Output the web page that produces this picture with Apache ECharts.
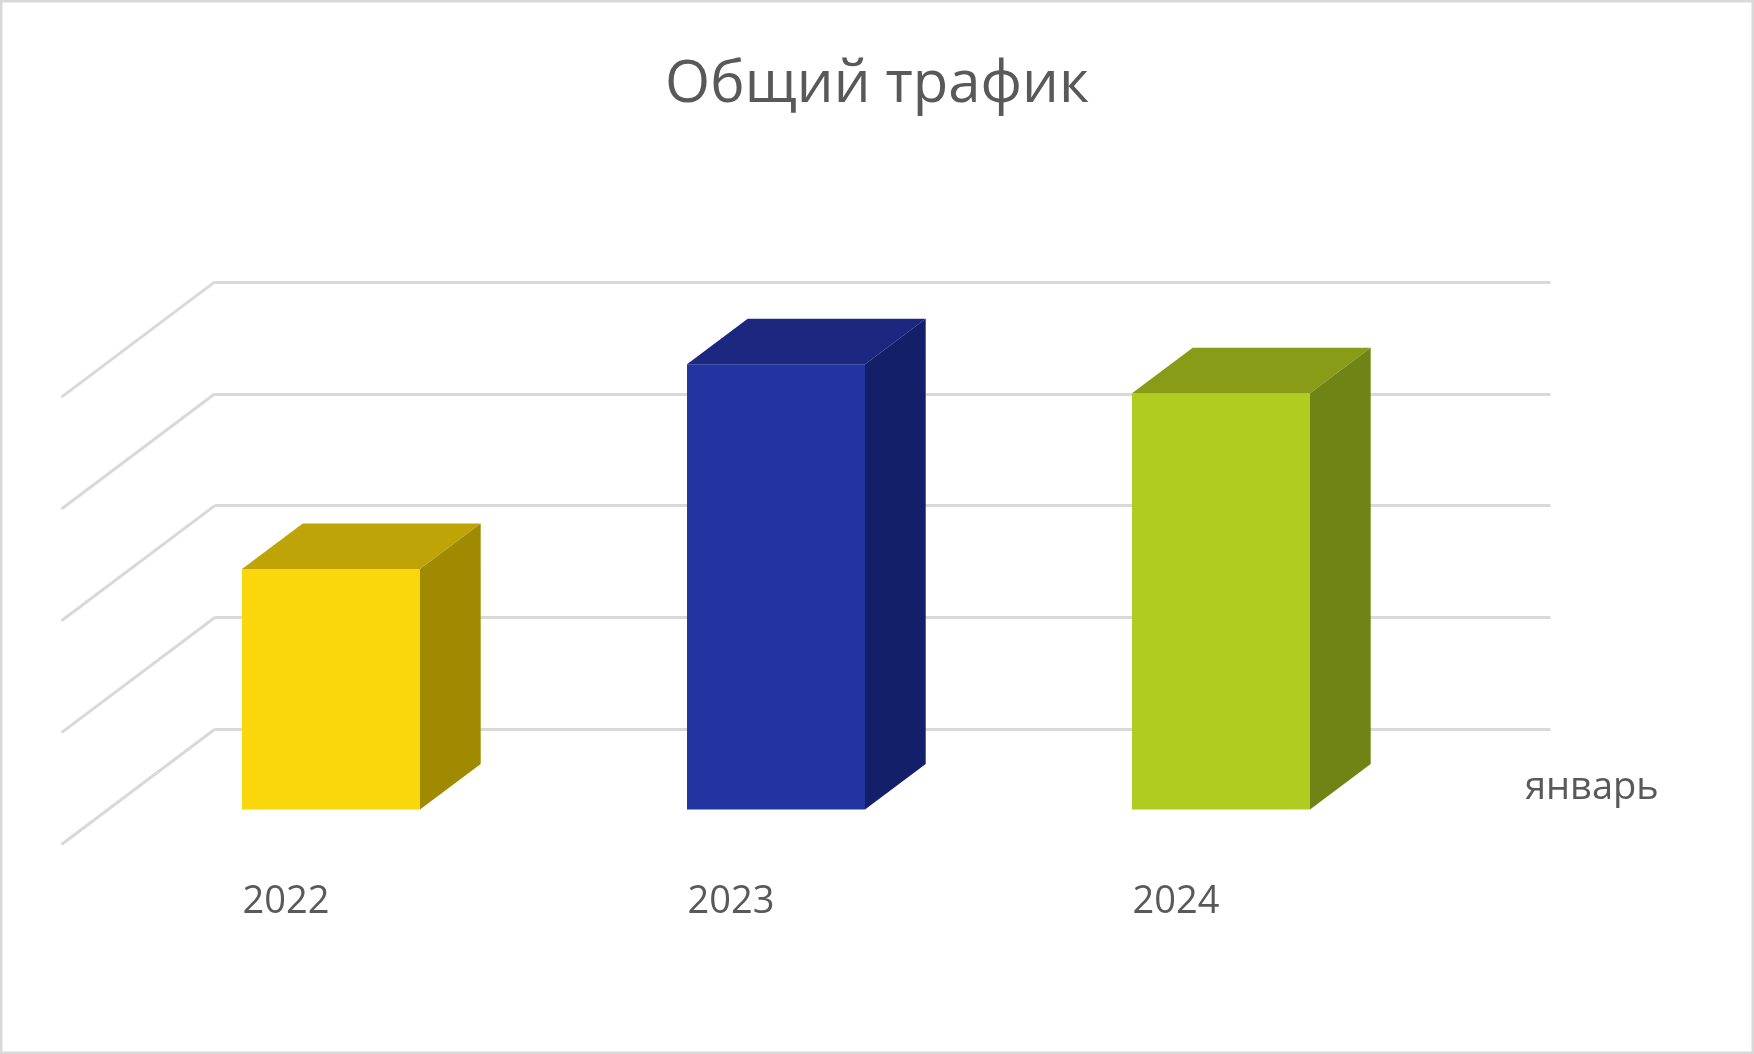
<!DOCTYPE html>
<html><head><meta charset="utf-8">
<script src="https://cdn.jsdelivr.net/npm/echarts@6.0.0/dist/echarts.min.js"></script>
<style>html,body{margin:0;padding:0;background:#fff}#c{width:1754px;height:1054px}</style>
</head><body><div id="c"></div><script>
// ---- data ----
const chartTitle = 'Общий трафик';
const seriesName = 'январь';
const categories = ['2022', '2023', '2024'];
const values = [2150, 3980, 3720];
const valueTicks = [0, 1000, 2000, 3000, 4000];

// ---- styles ----
const frontColors = ['#FAD70D', '#2134A0', '#B0CC20'];
const topColors = ['#BFA408', '#1C2880', '#889C18'];
const sideColors = ['#A08A01', '#141F69', '#708416'];
const gridColor = '#D9D9D9';
const textColor = '#595959';
const FONT = 'Open Sans';
const BAR_DX = 60.7, BAR_DY = 45.5;     // bar depth (oblique projection)
const WALL_DX = 153.3, WALL_DY = 115.2; // floor depth

const chart = echarts.init(document.getElementById('c'));
chart.setOption({
  backgroundColor: '#fff',
  animation: false,
  title: {
    text: chartTitle, left: 'center', top: 56, padding: 0,
    textStyle: { fontSize: 58, fontWeight: 'normal', color: textColor, fontFamily: FONT }
  },
  grid: [
    { left: 108.5, right: 310.5, top: 361.9, bottom: 244.5 },   // bar front plane
    { left: 214.8, right: 203.6, top: 281.9, bottom: 324.7 }    // back wall
  ],
  xAxis: [
    {
      gridIndex: 0, type: 'category', data: categories,
      axisLine: { show: false }, axisTick: { show: false }, splitLine: { show: false },
      axisLabel: {
        margin: 93, verticalAlign: 'middle', padding: [0, 90, 0, 0],
        fontSize: 38, color: textColor, fontFamily: FONT
      }
    },
    { gridIndex: 1, type: 'value', min: 0, max: 1, show: false }
  ],
  yAxis: [
    { gridIndex: 0, type: 'value', min: 0, max: 4000, interval: 1000, show: false },
    {
      gridIndex: 1, type: 'value', min: 0, max: 4000, interval: 1000,
      axisLine: { show: false }, axisTick: { show: false }, axisLabel: { show: false },
      splitLine: { show: true, lineStyle: { color: gridColor, width: 3 } }
    }
  ],
  graphic: [
    {
      type: 'rect', silent: true, z: 100,
      shape: { x: 1.25, y: 1.25, width: 1751.5, height: 1051.5 },
      style: { fill: 'none', stroke: '#D9D9D9', lineWidth: 2.5 }
    },
    {
      type: 'text', x: 1525, y: 788.5, silent: true,
      style: { text: seriesName, fontSize: 38, fontFamily: FONT, fill: textColor, align: 'left', verticalAlign: 'middle' }
    }
  ],
  series: [
    {
      type: 'custom', name: 'wall', xAxisIndex: 1, yAxisIndex: 1, silent: true, z: 1,
      data: valueTicks.map(v => [0, v]),
      renderItem: function (params, api) {
        const p = api.coord([0, api.value(1)]);
        return {
          type: 'line',
          shape: { x1: p[0], y1: p[1], x2: p[0] - WALL_DX, y2: p[1] + WALL_DY },
          style: { stroke: gridColor, lineWidth: 3 }
        };
      }
    },
    {
      type: 'custom', name: seriesName, xAxisIndex: 0, yAxisIndex: 0, z: 3,
      data: values.map((v, i) => [i, v]),
      renderItem: function (params, api) {
        const i = api.value(0);
        const top = api.coord([i, api.value(1)]);
        const base = api.coord([i, 0]);
        const w = api.size([1, 0])[0] * 0.4;
        const x0 = top[0] - w / 2, x1 = top[0] + w / 2;
        const yt = top[1], yb = base[1];
        return {
          type: 'group',
          children: [
            { type: 'rect', shape: { x: x0, y: yt, width: w, height: yb - yt }, style: { fill: frontColors[i] } },
            { type: 'polygon', shape: { points: [[x0, yt], [x0 + BAR_DX, yt - BAR_DY], [x1 + BAR_DX, yt - BAR_DY], [x1, yt]] }, style: { fill: topColors[i] } },
            { type: 'polygon', shape: { points: [[x1, yt], [x1 + BAR_DX, yt - BAR_DY], [x1 + BAR_DX, yb - BAR_DY], [x1, yb]] }, style: { fill: sideColors[i] } }
          ]
        };
      }
    }
  ]
});
</script></body></html>
